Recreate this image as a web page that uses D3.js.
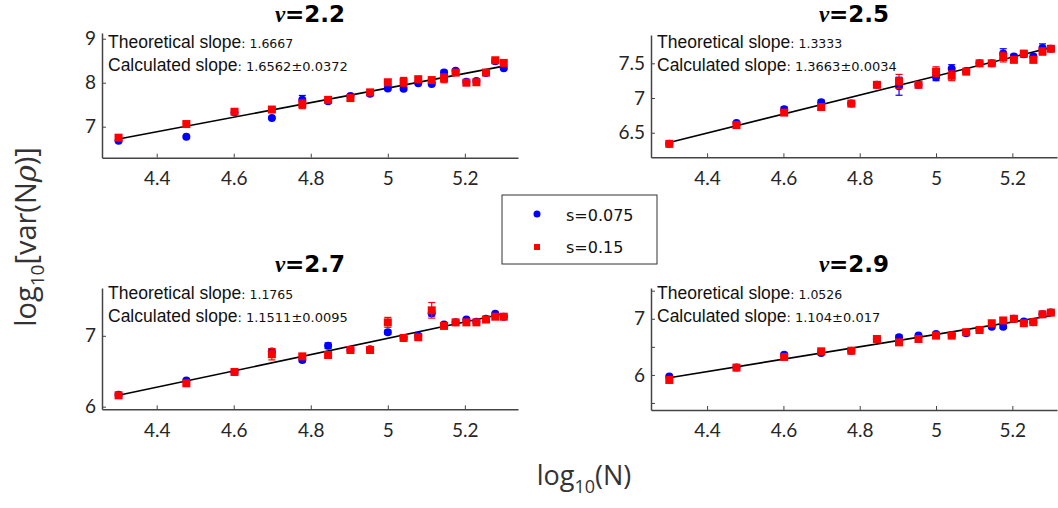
<!DOCTYPE html>
<html>
<head>
<meta charset="utf-8">
<script src="https://cdn.jsdelivr.net/npm/d3@7"></script>
<style>
  body { margin: 0; background: #fff; }
  svg { display: block; }
</style>
</head>
<body>
<div id="chart"></div>
<script>
// log10(N) values shared by all panels
var logN = [4.301, 4.477, 4.602, 4.699, 4.778, 4.845, 4.903, 4.954, 5.000, 5.041,
            5.079, 5.114, 5.146, 5.176, 5.204, 5.230, 5.255, 5.279, 5.301];

var nuLabels = ["2.2", "2.5", "2.7", "2.9"];
var theoSlope = ["1.6667", "1.3333", "1.1765", "1.0526"];
var calcSlope = ["1.6562\u00b10.0372", "1.3663\u00b10.0034", "1.1511\u00b10.0095", "1.104\u00b10.017"];
var fitSlope = [1.6562, 1.3663, 1.1511, 1.104];
var fitStart = [6.72, 6.36, 6.16, 5.95];

// s = 0.075 (blue)
var blue22 = [6.68, 6.77, 7.33, 7.20, 7.61, 7.58, 7.70, 7.75, 7.87, 7.86, 7.99, 7.97, 8.23, 8.27, 8.02, 8.04, 8.22, 8.49, 8.33];
var blue25 = [6.34, 6.64, 6.84, 6.94, 6.92, 7.19, 7.17, 7.19, 7.30, 7.42, 7.39, 7.50, 7.50, 7.64, 7.60, 7.63, 7.60, 7.72, 7.71];
var blue27 = [6.17, 6.37, 6.49, 6.78, 6.66, 6.86, 6.80, 6.81, 7.05, 6.97, 7.00, 7.32, 7.16, 7.19, 7.23, 7.20, 7.24, 7.31, 7.27];
var blue29 = [5.97, 6.13, 6.36, 6.39, 6.43, 6.64, 6.67, 6.70, 6.73, 6.71, 6.74, 6.80, 6.86, 6.86, 7.00, 6.95, 6.94, 7.08, 7.11];
// s = 0.15 (red)
var red22 = [6.75, 7.06, 7.34, 7.39, 7.51, 7.61, 7.65, 7.78, 8.01, 8.02, 8.08, 8.06, 8.10, 8.23, 8.00, 8.01, 8.23, 8.51, 8.45];
var red25 = [6.34, 6.61, 6.79, 6.87, 6.92, 7.19, 7.24, 7.19, 7.38, 7.32, 7.38, 7.50, 7.50, 7.59, 7.55, 7.64, 7.55, 7.67, 7.71];
var red27 = [6.16, 6.33, 6.49, 6.74, 6.71, 6.73, 6.80, 6.80, 7.19, 6.97, 6.98, 7.36, 7.14, 7.19, 7.19, 7.19, 7.23, 7.27, 7.27];
var red29 = [5.91, 6.13, 6.32, 6.42, 6.43, 6.64, 6.58, 6.64, 6.70, 6.70, 6.76, 6.80, 6.92, 6.97, 7.00, 6.92, 6.94, 7.08, 7.11];

// error bar half widths
var blueErr22 = [0.03, 0.03, 0.02, 0.02, 0.10, 0.03, 0.02, 0.02, 0.03, 0.03, 0.03, 0.03, 0.05, 0.03, 0.02, 0.02, 0.02, 0.03, 0.03];
var redErr22  = [0.03, 0.06, 0.02, 0.04, 0.10, 0.02, 0.03, 0.02, 0.06, 0.10, 0.04, 0.04, 0.10, 0.04, 0.02, 0.02, 0.02, 0.04, 0.04];
var blueErr25 = [0.02, 0.02, 0.03, 0.03, 0.02, 0.03, 0.13, 0.03, 0.05, 0.06, 0.02, 0.02, 0.02, 0.07, 0.03, 0.04, 0.03, 0.06, 0.03];
var redErr25  = [0.02, 0.02, 0.04, 0.03, 0.02, 0.03, 0.10, 0.03, 0.07, 0.07, 0.03, 0.02, 0.02, 0.07, 0.03, 0.04, 0.04, 0.05, 0.04];
var blueErr27 = [0.02, 0.02, 0.02, 0.04, 0.03, 0.04, 0.02, 0.02, 0.03, 0.02, 0.03, 0.04, 0.02, 0.02, 0.02, 0.02, 0.02, 0.02, 0.02];
var redErr27  = [0.02, 0.02, 0.02, 0.08, 0.03, 0.04, 0.03, 0.02, 0.07, 0.02, 0.03, 0.11, 0.03, 0.02, 0.02, 0.02, 0.02, 0.02, 0.02];
var blueErr29 = [0.02, 0.02, 0.03, 0.02, 0.02, 0.03, 0.04, 0.03, 0.02, 0.02, 0.02, 0.02, 0.03, 0.03, 0.02, 0.02, 0.02, 0.03, 0.02];
var redErr29  = [0.02, 0.02, 0.03, 0.02, 0.02, 0.04, 0.04, 0.03, 0.02, 0.02, 0.02, 0.02, 0.04, 0.04, 0.03, 0.03, 0.02, 0.03, 0.02];

var xTicks = [4.4, 4.6, 4.8, 5.0, 5.2];
var yTicks = [[7, 8, 9], [6.5, 7, 7.5], [6, 7], [5.5, 6, 6.5, 7, 7.5]];

var blueSeries = [blue22, blue25, blue27, blue29];
var redSeries = [red22, red25, red27, red29];
var blueErrs = [blueErr22, blueErr25, blueErr27, blueErr29];
var redErrs = [redErr22, redErr25, redErr27, redErr29];

var W = 1058, H = 508;
var svg = d3.select("#chart").append("svg")
  .attr("width", W).attr("height", H);

// panel boxes in pixels and axis domains; ty = title baseline, ay = annotation baseline
var panels = [
  {l: 102, r: 518,  t: 33,  b: 157.7, xd: [4.258, 5.338], yd: [6.295, 9.13],  ty: 22,  ay: 48},
  {l: 651, r: 1057, t: 35,  b: 157.3, xd: [4.253, 5.317], yd: [6.146, 7.908], ty: 22,  ay: 48},
  {l: 102, r: 518,  t: 288, b: 409.3, xd: [4.258, 5.338], yd: [5.963, 7.675], ty: 272, ay: 299},
  {l: 651, r: 1057, t: 288, b: 410,   xd: [4.253, 5.317], yd: [5.375, 7.548], ty: 272, ay: 299}
];

var tickFont = "Lato, 'Open Sans', sans-serif";

panels.forEach(function(p, i) {
  var x = d3.scaleLinear().domain(p.xd).range([p.l, p.r]);
  var y = d3.scaleLinear().domain(p.yd).range([p.b, p.t]);
  var g = svg.append("g");

  // x axis
  var xa = g.append("g")
    .attr("transform", "translate(0," + p.b + ")")
    .call(d3.axisBottom(x).tickValues(xTicks).tickSizeInner(-4).tickSizeOuter(0).tickPadding(14)
      .tickFormat(function(d) { return d === 5 ? "5" : d3.format(".1f")(d); }));
  // y axis
  var ya = g.append("g")
    .attr("transform", "translate(" + p.l + ",0)")
    .call(d3.axisLeft(y).tickValues(yTicks[i]).tickSizeInner(-4).tickSizeOuter(0).tickPadding(6)
      .tickFormat(function(d) {
        if (i === 3) return Number.isInteger(d) ? d : "";
        return Number.isInteger(d) ? d : d3.format(".1f")(d);
      }));
  [xa, ya].forEach(function(a) {
    a.select(".domain").attr("stroke", "#444").attr("stroke-width", 1.5);
    a.selectAll(".tick line").attr("stroke", "#444");
    a.selectAll(".tick text")
      .attr("fill", "#262626")
      .style("font-family", tickFont)
      .style("font-size", "19px");
  });

  // title
  var title = g.append("text")
    .attr("x", (p.l + p.r) / 2)
    .attr("y", p.ty)
    .attr("text-anchor", "middle")
    .style("font-size", "23px")
    .style("font-weight", "bold");
  title.append("tspan").style("font-family", "'Liberation Serif', serif").style("font-style", "italic").text("\u03bd");
  title.append("tspan").style("font-family", "'DejaVu Sans', sans-serif").text("=" + nuLabels[i]);

  // slope annotations
  var t1 = g.append("text").attr("x", p.l + 6).attr("y", p.ay)
    .style("font-family", "'Liberation Sans', Arial, sans-serif").style("font-size", "17.5px").attr("fill", "#111");
  t1.append("tspan").text("Theoretical slope");
  t1.append("tspan").style("font-size", "12.5px").style("font-family", "'DejaVu Sans', sans-serif").text(": " + theoSlope[i]);
  var t2 = g.append("text").attr("x", p.l + 6).attr("y", p.ay + 23)
    .style("font-family", "'Liberation Sans', Arial, sans-serif").style("font-size", "17.5px").attr("fill", "#111");
  t2.append("tspan").text("Calculated slope");
  t2.append("tspan").style("font-size", "13px").style("font-family", "'DejaVu Sans', sans-serif").text(": " + calcSlope[i]);

  // fit line
  var x0 = logN[0], x1 = logN[logN.length - 1];
  g.append("line")
    .attr("x1", x(x0)).attr("y1", y(fitStart[i]))
    .attr("x2", x(x1)).attr("y2", y(fitStart[i] + fitSlope[i] * (x1 - x0)))
    .attr("stroke", "#000").attr("stroke-width", 1.6);

  function drawErr(vals, errs, color) {
    var eg = g.append("g").attr("stroke", color).attr("stroke-width", 1.2);
    vals.forEach(function(v, k) {
      var cx = x(logN[k]), top = y(v + errs[k]), bot = y(v - errs[k]);
      eg.append("line").attr("x1", cx).attr("x2", cx).attr("y1", top).attr("y2", bot);
      eg.append("line").attr("x1", cx - 3.5).attr("x2", cx + 3.5).attr("y1", top).attr("y2", top);
      eg.append("line").attr("x1", cx - 3.5).attr("x2", cx + 3.5).attr("y1", bot).attr("y2", bot);
    });
  }

  drawErr(blueSeries[i], blueErrs[i], "#0000ff");
  g.append("g").selectAll("circle")
    .data(blueSeries[i])
    .enter().append("circle")
    .attr("cx", function(d, k) { return x(logN[k]); })
    .attr("cy", function(d) { return y(d); })
    .attr("r", 4)
    .attr("fill", "#0000ff");

  drawErr(redSeries[i], redErrs[i], "#ff0000");
  g.append("g").selectAll("rect")
    .data(redSeries[i])
    .enter().append("rect")
    .attr("x", function(d, k) { return x(logN[k]) - 4; })
    .attr("y", function(d) { return y(d) - 4; })
    .attr("width", 8).attr("height", 8)
    .attr("fill", "#ff0000");
});

// legend
var lg = svg.append("g");
lg.append("rect").attr("x", 502).attr("y", 195).attr("width", 155).attr("height", 69)
  .attr("fill", "#fff").attr("stroke", "#333").attr("stroke-width", 1);
lg.append("circle").attr("cx", 537).attr("cy", 214).attr("r", 3.5).attr("fill", "#0000ff");
lg.append("rect").attr("x", 534).attr("y", 244).attr("width", 6).attr("height", 6).attr("fill", "#ff0000");
lg.append("text").attr("x", 566).attr("y", 221).text("s=0.075")
  .style("font-family", "'DejaVu Sans', sans-serif").style("font-size", "16px").attr("fill", "#111");
lg.append("text").attr("x", 566).attr("y", 253).text("s=0.15")
  .style("font-family", "'DejaVu Sans', sans-serif").style("font-size", "16px").attr("fill", "#111");

// axis labels
var labFont = "'Open Sans', sans-serif";
var xl = svg.append("text").attr("x", 584).attr("y", 485).attr("text-anchor", "middle")
  .style("font-family", labFont).style("font-size", "27px").attr("fill", "#333");
xl.append("tspan").text("log");
xl.append("tspan").attr("dy", 8).style("font-size", "18px").text("10");
xl.append("tspan").attr("dy", -8).text("(N)");

var yl = svg.append("text").attr("transform", "translate(36,237) rotate(-90)").attr("text-anchor", "middle")
  .style("font-family", labFont).style("font-size", "29px").attr("fill", "#333");
yl.append("tspan").text("log");
yl.append("tspan").attr("dy", 8).style("font-size", "19px").text("10");
yl.append("tspan").attr("dy", -8).text("[var(N");
yl.append("tspan").style("font-family", "'DejaVu Serif', serif").style("font-style", "italic").text("\u03c1");
yl.append("tspan").text(")]");
</script>
</body>
</html>
